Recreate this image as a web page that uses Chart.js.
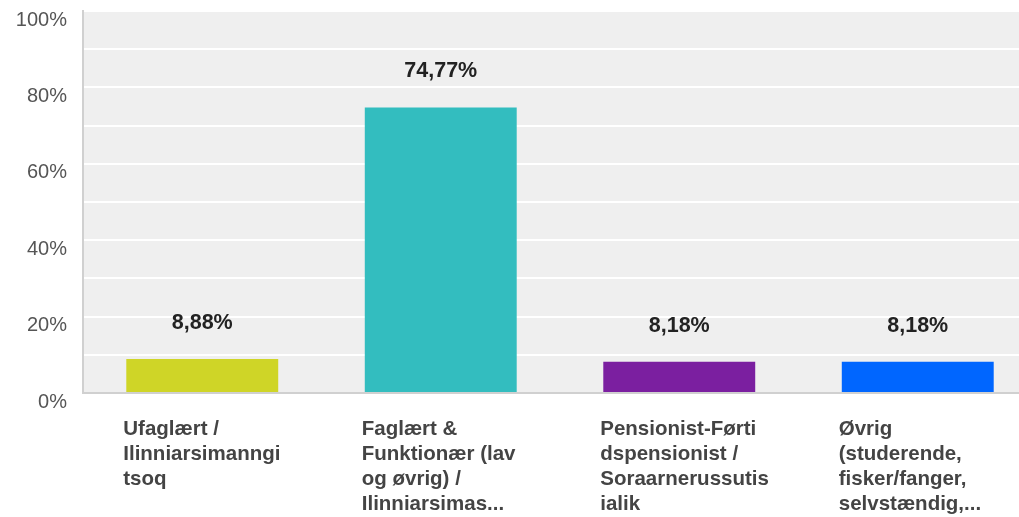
<!DOCTYPE html>
<html>
<head>
<meta charset="utf-8">
<script src="https://cdn.jsdelivr.net/npm/chart.js@4/dist/chart.umd.min.js"></script>
<style>
  html, body { margin: 0; padding: 0; background: #fff; overflow: hidden; }
  #wrap { width: 1037px; height: 517px; position: relative; }
</style>
</head>
<body>
<div id="wrap"><canvas id="barChart"></canvas></div>
<script>
// chart data
const categories = [
  ["Ufaglært /", "Ilinniarsimanngi", "tsoq"],
  ["Faglært &", "Funktionær (lav", "og øvrig) /", "Ilinniarsimas..."],
  ["Pensionist-Førti", "dspensionist /", "Soraarnerussutis", "ialik"],
  ["Øvrig", "(studerende,", "fisker/fanger,", "selvstændig,..."]
];
const percentages = [8.88, 74.77, 8.18, 8.18];
const valueLabels = ["8,88%", "74,77%", "8,18%", "8,18%"];
const barColors = ["#cfd527", "#33bdbf", "#7b1fa0", "#0066ff"];

const FONT = "'Liberation Sans', Arial, sans-serif";

// grey plot background
const plotBg = {
  id: "plotBg",
  beforeDraw(chart) {
    const { ctx, chartArea } = chart;
    ctx.save();
    ctx.fillStyle = "#efefef";
    ctx.fillRect(chartArea.left, chartArea.top, chartArea.right - chartArea.left, chartArea.bottom - chartArea.top);
    ctx.restore();
  }
};

// value labels above bars + wrapped category labels under them
const textLabels = {
  id: "textLabels",
  afterDraw(chart) {
    const { ctx } = chart;
    const x = chart.scales.x;
    const y = chart.scales.y;
    ctx.save();
    ctx.textBaseline = "middle";
    ctx.textAlign = "center";
    ctx.fillStyle = "#222";
    ctx.font = "bold 21.5px " + FONT;
    percentages.forEach((v, i) => {
      ctx.fillText(valueLabels[i], x.getPixelForValue(i), y.getPixelForValue(v) - 36);
    });
    ctx.textAlign = "left";
    ctx.fillStyle = "#444";
    ctx.font = "bold 20.5px " + FONT;
    categories.forEach((lines, i) => {
      const cx = x.getPixelForValue(i) - 79;
      lines.forEach((line, j) => {
        ctx.fillText(line, cx, 429 + j * 25);
      });
    });
    ctx.restore();
  }
};

new Chart(document.getElementById("barChart"), {
  type: "bar",
  data: {
    labels: categories.map((c) => c.join(" ")),
    datasets: [
      {
        data: percentages,
        backgroundColor: barColors,
        categoryPercentage: 1,
        barPercentage: 0.637
      }
    ]
  },
  options: {
    responsive: true,
    maintainAspectRatio: false,
    animation: false,
    layout: { padding: { top: 11, left: 0, right: 0, bottom: 0 } },
    plugins: {
      legend: { display: false },
      tooltip: { enabled: false }
    },
    scales: {
      x: {
        grid: { display: false },
        ticks: { display: false },
        border: { display: true, color: "#d0d0d0", width: 2 },
        afterFit(scale) {
          scale.height = 124;
        }
      },
      y: {
        min: 0,
        max: 100,
        ticks: {
          stepSize: 10,
          padding: 16,
          labelOffset: 9,
          color: "#555",
          font: { family: FONT, size: 20 },
          callback: (v) => (v % 20 === 0 ? v + "%" : "")
        },
        grid: { color: "#ffffff", lineWidth: 2, drawTicks: false },
        border: { display: true, color: "#d0d0d0", width: 2 },
        afterFit(scale) {
          scale.width = 83;
          scale.paddingTop = 0;
          scale.paddingBottom = 0;
        }
      }
    }
  },
  plugins: [plotBg, textLabels]
});
</script>
</body>
</html>
